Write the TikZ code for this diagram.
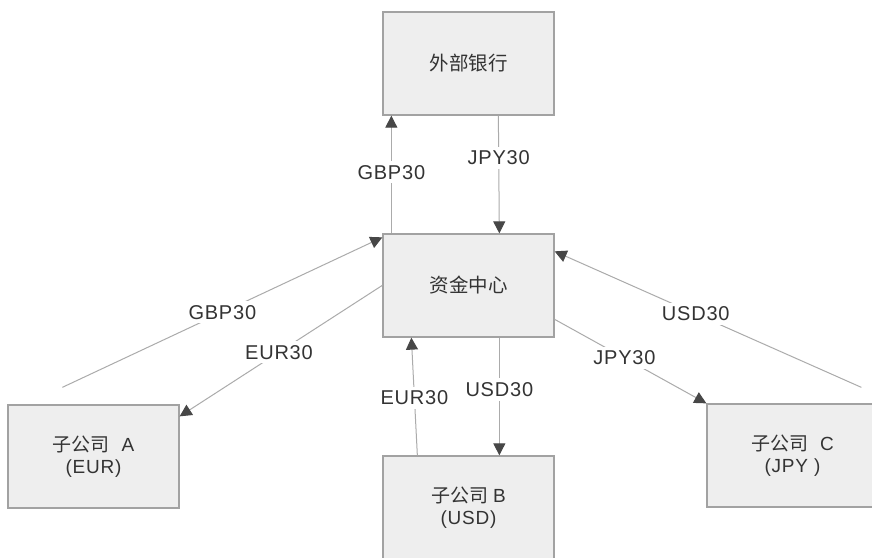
\documentclass[tikz,border=0pt]{standalone}
\usepackage{fontspec}
\setmainfont{Liberation Sans}[LetterSpace=4]
\newfontfamily\cjk{Noto Sans CJK SC}
\usetikzlibrary{arrows.meta,calc}
\definecolor{boxfill}{HTML}{EEEEEE}
\definecolor{boxline}{HTML}{A2A2A2}
\definecolor{flowline}{HTML}{ABABAB}
\definecolor{headc}{HTML}{474747}
\definecolor{txt}{HTML}{333333}
\begin{document}
\begin{tikzpicture}[x=1pt,y=-1pt,
  box/.style={draw=boxline, fill=boxfill, line width=1.3pt, minimum width=171pt, minimum height=103pt, inner sep=0pt, align=center, text=txt, font=\fontsize{19}{22}\selectfont},
  flow/.style={draw=flowline, line width=1pt, -{Triangle[length=12pt,width=12pt,color=headc]}},
  lbl/.style={fill=white, inner xsep=2pt, inner ysep=4pt, text=txt, font=\fontsize{20}{22}\selectfont}]
\useasboundingbox (0,0) rectangle (872,557);
\clip (0,0) rectangle (872,557);
\fill[white] (0,0) rectangle (872,557);

\node[box] (bank) at (468.5,63.5) {{\cjk\fontsize{19.5}{22}\selectfont 外部银行}};
\node[box] (hub) at (468.5,285.5) {{\cjk\fontsize{19.5}{22}\selectfont 资金中心}};
\node[box] (A) at (93.5,456.5) {{\cjk 子公司}\hspace{12pt}A\\(EUR)};
\node[box] (B) at (468.5,507.5) {{\cjk 子公司}\hspace{5pt}B\\(USD)};
\node[box] (C) at (792.5,455.5) {{\cjk 子公司}\hspace{12pt}C\\(JPY )};

\draw[flow] ($(hub.north west)+(9,0)$) -- node[lbl,pos=0.52]{GBP30} ($(bank.south west)+(9,0)$);
\draw[flow] ($(bank.south west)+(116,0)$) -- node[lbl,pos=0.36]{JPY30} ($(hub.north west)+(117,0)$);
\draw[flow] ($(A.north west)+(55,-17)$) -- node[lbl,pos=0.5]{GBP30} ($(hub.north west)+(0,4)$);
\draw[flow] ($(hub.north west)+(0,52)$) -- node[lbl,pos=0.51]{EUR30} ($(A.north east)+(0,12)$);
\draw[flow] ($(C.north west)+(155,-16)$) -- node[lbl,pos=0.54]{USD30} ($(hub.north east)+(0,18)$);
\draw[flow] ($(hub.north east)+(0,86)$) -- node[lbl,pos=0.46]{JPY30} (C.north west);
\draw[flow] ($(B.north west)+(35,0)$) -- node[lbl,pos=0.49]{EUR30} ($(hub.south west)+(29,0)$);
\draw[flow] ($(hub.south west)+(117,0)$) -- node[lbl,pos=0.44]{USD30} ($(B.north west)+(117,0)$);
\end{tikzpicture}
\end{document}
